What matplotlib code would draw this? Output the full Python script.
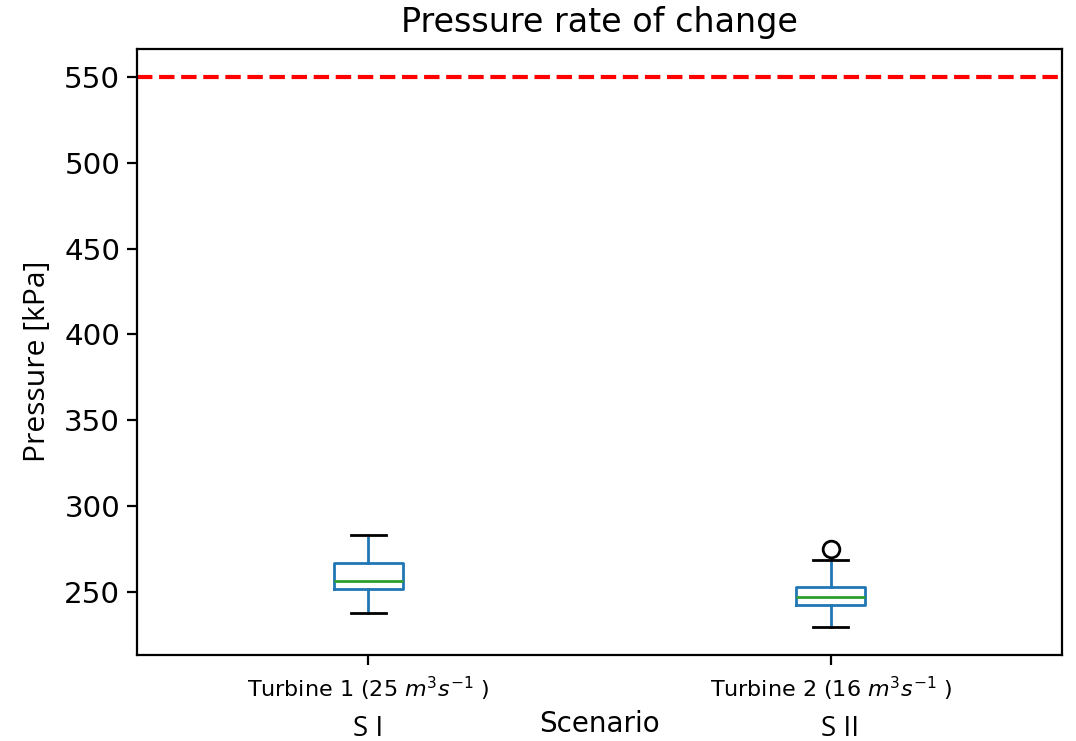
import matplotlib
matplotlib.use("Agg")
import matplotlib.pyplot as plt
import matplotlib.transforms as mtransforms

# Box statistics (kPa)
labels = [r"Turbine 1 (25 $m^3s^{-1}$ )", r"Turbine 2 (16 $m^3s^{-1}$ )"]
scenarios = ["S I", "S II"]
whislo = [238.0, 229.4]
q1 = [251.6, 242.4]
med = [256.6, 247.3]
q3 = [266.7, 253.1]
whishi = [283.2, 268.6]
fliers = [[], [274.9]]
limit = 550

stats = []
for i in range(len(labels)):
    stats.append(dict(label=labels[i], whislo=whislo[i], q1=q1[i], med=med[i],
                      q3=q3[i], whishi=whishi[i], fliers=fliers[i]))

fig = plt.figure(figsize=(5.38, 3.705), dpi=200)
ax = fig.add_axes([0.1273, 0.1161, 0.8597, 0.8178])

ax.bxp(stats, positions=[1, 2], widths=0.15,
       boxprops=dict(color="#1f77b4"),
       whiskerprops=dict(color="#1f77b4"),
       capprops=dict(color="k"),
       medianprops=dict(color="#2ca02c"),
       flierprops=dict(marker="o", markerfacecolor="none", markeredgecolor="k"))

ax.axhline(limit, color="red", linestyle="--", linewidth=1.5)

ax.set_xlim(0.5, 2.5)
ax.set_ylim(213.3, 566.3)
ax.set_yticks([250, 300, 350, 400, 450, 500, 550])
ax.tick_params(axis="y", labelsize=10.6, pad=2.5)
ax.tick_params(axis="x", labelsize=8)

ax.set_title("Pressure rate of change", fontsize=12, pad=6)
ax.set_xlabel("Scenario", fontsize=10, labelpad=2.5)
ax.set_ylabel("Pressure [kPa]", fontsize=10.8, family="Open Sans")
ax.yaxis.set_label_coords(-0.092, 0.485)

trans = mtransforms.blended_transform_factory(ax.transData, ax.transAxes)
for x, s in zip([1.0, 2.02], scenarios):
    ax.text(x, -0.134, s, transform=trans, ha="center", va="baseline",
            fontsize=10, family="Open Sans")

fig.savefig("out.png", dpi=200)
